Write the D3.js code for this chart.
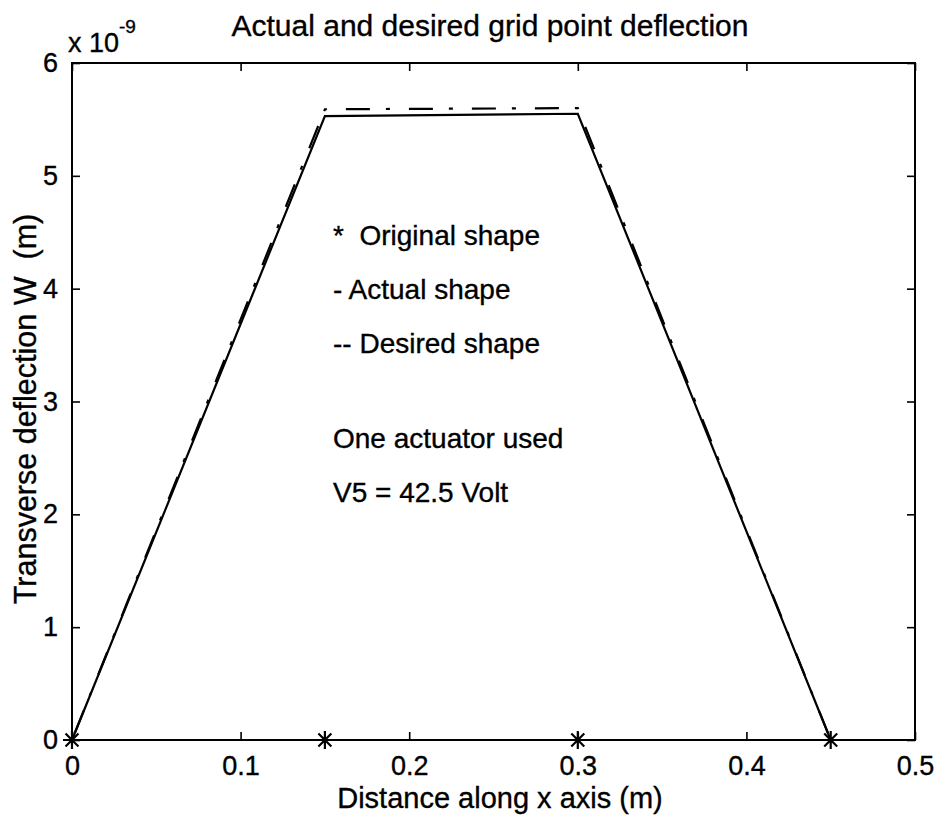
<!DOCTYPE html>
<html>
<head>
<meta charset="utf-8">
<script src="https://cdn.jsdelivr.net/npm/d3@7"></script>
<style>
  html, body { margin: 0; padding: 0; background: #fff; }
  svg { display: block; }
  text { font-family: "Liberation Sans", Arial, Helvetica, sans-serif; fill: #000; stroke: #000; stroke-width: 0.35px; }
</style>
</head>
<body>
<svg id="chart" width="948" height="825"></svg>
<script>
// ---- data ----
const xValues = [0, 0.15, 0.30, 0.45];
const originalShape = [0, 0, 0, 0];
const actualShape = [0, 5.53, 5.55, 0];
const desiredShape = [0, 5.59, 5.60, 0];
const xTicks = [0, 0.1, 0.2, 0.3, 0.4, 0.5];
const xTickLabels = ["0", "0.1", "0.2", "0.3", "0.4", "0.5"];
const yTicks = [0, 1, 2, 3, 4, 5, 6];
const yTickLabels = ["0", "1", "2", "3", "4", "5", "6"];
const titleText = "Actual and desired grid point deflection";
const xLabelText = "Distance along x axis (m)";
const yLabelText = "Transverse deflection W  (m)";
const legendLines = ["*  Original shape", "- Actual shape", "-- Desired shape"];
const noteLines = ["One actuator used", "V5 = 42.5 Volt"];

// ---- layout ----
const L = 72, R = 915, T = 63, B = 740;
const svg = d3.select("#chart");
const x = d3.scaleLinear().domain([0, 0.5]).range([L, R]);
const y = d3.scaleLinear().domain([0, 6]).range([B, T]);

// box
svg.append("rect").attr("x", L).attr("y", T).attr("width", R - L).attr("height", B - T)
  .attr("fill", "none").attr("stroke", "#000").attr("stroke-width", 2);

const tickLen = 8;
// bottom axis (ticks inward)
const gx = svg.append("g").attr("transform", `translate(0,${B})`)
  .call(d3.axisBottom(x).tickValues(xTicks).tickSizeInner(-tickLen).tickSizeOuter(0)
    .tickPadding(16).tickFormat((d, i) => xTickLabels[i]));
// top axis
const gxt = svg.append("g").attr("transform", `translate(0,${T})`)
  .call(d3.axisTop(x).tickValues(xTicks).tickSizeInner(-tickLen).tickSizeOuter(0).tickFormat(""));
// left axis
const gy = svg.append("g").attr("transform", `translate(${L},0)`)
  .call(d3.axisLeft(y).tickValues(yTicks).tickSizeInner(-tickLen).tickSizeOuter(0)
    .tickPadding(14).tickFormat((d, i) => yTickLabels[i]));
// right axis
const gyr = svg.append("g").attr("transform", `translate(${R},0)`)
  .call(d3.axisRight(y).tickValues(yTicks).tickSizeInner(-tickLen).tickSizeOuter(0).tickFormat(""));

[gx, gxt, gy, gyr].forEach(g => {
  g.select(".domain").remove();
  g.selectAll("line").attr("stroke", "#000").attr("stroke-width", 1.6);
  g.selectAll("text").style("font-family", '"Liberation Sans", Arial, sans-serif')
    .style("font-size", "27px").attr("fill", "#000");
});
gx.selectAll("text").attr("dy", "0.71em");

// exponent label
const expo = svg.append("text").attr("x", L - 4).attr("y", 52).style("font-size", "27px");
expo.append("tspan").text("x 10");
expo.append("tspan").attr("dy", -19).style("font-size", "19px").text("-9");

// title
svg.append("text").attr("x", 490).attr("y", 36).attr("text-anchor", "middle")
  .style("font-size", "30px").text(titleText);
// x label
svg.append("text").attr("x", 500).attr("y", 808).attr("text-anchor", "middle")
  .style("font-size", "29px").text(xLabelText);
// y label
svg.append("text").attr("transform", `translate(36,409) rotate(-90)`)
  .attr("text-anchor", "middle").style("font-size", "30.5px").style("white-space", "pre")
  .text(yLabelText);

// data lines
const pts = (vals) => xValues.map((d, i) => [d, vals[i]]);
const line = d3.line().x(d => x(d[0])).y(d => y(d[1]));

const desiredPath = svg.append("path").datum(pts(desiredShape)).attr("d", line)
  .attr("fill", "none").attr("stroke", "#000").attr("stroke-width", 2.2)
  .attr("stroke-dasharray", "24 16 4 19");
// align the dash-dot pattern so a dot falls on the first corner
{
  const p0 = pts(desiredShape)[0], p1 = pts(desiredShape)[1];
  const len = Math.hypot(x(p1[0]) - x(p0[0]), y(p1[1]) - y(p0[1]));
  const period = 63, dotStart = 40;
  const off = (((dotStart - (len - 2)) % period) + period) % period;
  desiredPath.attr("stroke-dashoffset", off);
}
svg.append("path").datum(pts(actualShape)).attr("d", line)
  .attr("fill", "none").attr("stroke", "#000").attr("stroke-width", 2.2);

// star markers
const s = 9;
const k = s * 0.72;
const starPath = `M${-s},0L${s},0M0,${-s}L0,${s}M${-k},${-k}L${k},${k}M${-k},${k}L${k},${-k}`;
svg.selectAll(".star").data(pts(originalShape)).enter().append("path")
  .attr("class", "star")
  .attr("transform", d => `translate(${x(d[0])},${y(d[1])})`)
  .attr("d", starPath).attr("stroke", "#000").attr("stroke-width", 2.2).attr("fill", "none");

// legend / annotation text
const legY = [245, 299, 353];
legendLines.forEach((t, i) => {
  svg.append("text").attr("x", 333).attr("y", legY[i]).style("font-size", "28px")
    .style("white-space", "pre").text(t);
});
const noteY = [448, 502];
noteLines.forEach((t, i) => {
  svg.append("text").attr("x", 333).attr("y", noteY[i]).style("font-size", "28px").text(t);
});
</script>
</body>
</html>
